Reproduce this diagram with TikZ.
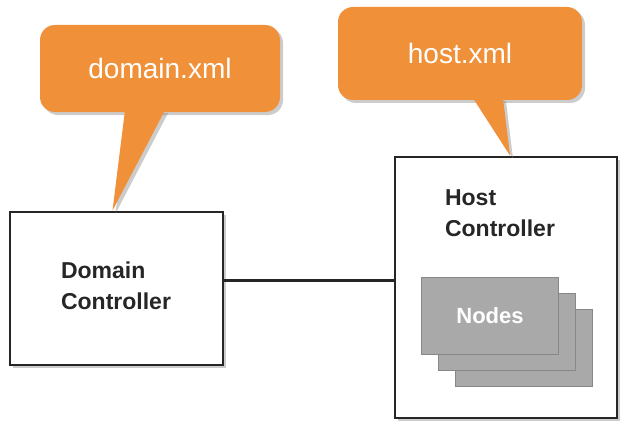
\documentclass[tikz,border=0pt]{standalone}
\usepackage{fontspec}
\setmainfont{Liberation Sans}
\usetikzlibrary{positioning,shadows}
\definecolor{bubbleorange}{HTML}{F0913A}
\definecolor{nodegray}{HTML}{A9A9A9}
\definecolor{nodeedge}{HTML}{888888}

\begin{document}
\begin{tikzpicture}[
	x=1pt, y=-1pt,
	ctrlbox/.style={rectangle, draw=black!85, line width=2.8pt, fill=white, drop shadow={opacity=0.4, shadow xshift=3pt, shadow yshift=-3pt}},
	ctrltext/.style={font=\fontsize{23}{31}\selectfont\bfseries, text=black!85, align=left, inner sep=0pt},
	bubble/.style={rectangle, rounded corners=15pt, fill=bubbleorange, text=white, font=\fontsize{28}{32}\selectfont, drop shadow={opacity=0.4, shadow xshift=3pt, shadow yshift=-3pt}},
	tail/.style={fill=bubbleorange, drop shadow={opacity=0.4, shadow xshift=3pt, shadow yshift=-3pt}},
	nodebox/.style={rectangle, draw=nodeedge, line width=1.2pt, fill=nodegray, minimum width=137pt, minimum height=77pt, text=white, font=\fontsize{22}{24}\selectfont\bfseries},
	link/.style={draw=black!85, line width=2.8pt}
]
\useasboundingbox (0,0) rectangle (620,425);
% controllers
\node (dc) [ctrlbox, minimum width=213pt, minimum height=153pt] at (116.5,288.5) {};
\node (dctext) [ctrltext] at (116,286) {Domain\\Controller};
\node (hc) [ctrlbox, minimum width=222pt, minimum height=261pt] at (506,287.5) {};
\node (hctext) [ctrltext] at (500,213) {Host\\Controller};
% stacked nodes
\foreach \i in {2,1} {
	\node (nodes\i) [nodebox] at ({490+17*\i},{316+16*\i}) {};
}
\node (nodes0) [nodebox] at (490,316) {Nodes};
\draw [link] ([yshift=8pt]dc.east) -- ([yshift=8pt]dc.east -| hc.west);
% config bubbles
\node (domxml) [bubble, minimum width=240pt, minimum height=87pt] at (160,68.5) {domain.xml};
\node (hostxml) [bubble, minimum width=244pt, minimum height=93pt] at (460,53.5) {host.xml};
\fill [tail] ([xshift=-35pt,yshift=2pt]domxml.south) -- ([xshift=-4pt]dc.north) -- ([xshift=5pt,yshift=2pt]domxml.south) -- cycle;
\fill [tail] ([xshift=13pt,yshift=2pt]hostxml.south) -- ([xshift=4pt]hc.north) -- ([xshift=43pt,yshift=2pt]hostxml.south) -- cycle;
\end{tikzpicture}
\end{document}
